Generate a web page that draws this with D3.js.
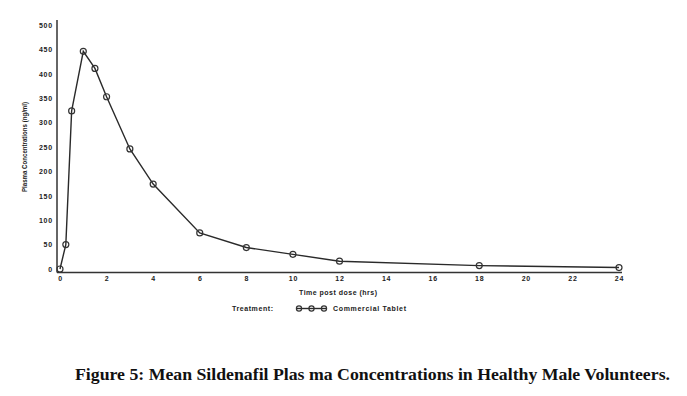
<!DOCTYPE html>
<html>
<head>
<meta charset="utf-8">
<script src="https://cdn.jsdelivr.net/npm/d3@7"></script>
<style>
  body { margin: 0; background: #fff; }
  .tick text, .lbl { font-family: "Liberation Sans", Arial, sans-serif; font-weight: bold; font-size: 7px; fill: #222; }
</style>
</head>
<body>
<div id="chart"></div>
<script>
// Mean sildenafil plasma concentration (ng/ml) by time post dose (hrs)
const times = [0, 0.25, 0.5, 1, 1.5, 2, 3, 4, 6, 8, 10, 12, 18, 24];
const conc = [0, 50, 324, 446, 411, 353, 246, 174, 74, 44, 30, 16, 7, 3];
const xTicks = [0, 2, 4, 6, 8, 10, 12, 14, 16, 18, 20, 22, 24];
const yTicks = [0, 50, 100, 150, 200, 250, 300, 350, 400, 450, 500];

const width = 687, height = 396;

const svg = d3.select("#chart")
    .append("svg")
    .attr("width", width)
    .attr("height", height);

const xScale = d3.scaleLinear().domain([0, 24]).range([60, 619]);
const yScale = d3.scaleLinear().domain([0, 500]).range([269, 25]);

// axes (no tick marks, just labels)
const bottomAxis = d3.axisBottom(xScale).tickValues(xTicks).tickSize(0).tickPadding(0);
const xg = svg.append("g")
    .attr("transform", "translate(0,276)")
    .call(bottomAxis);
xg.select(".domain").remove();
xg.selectAll("text").attr("dy", "0.71em").style("letter-spacing", "0.8px");

const leftAxis = d3.axisLeft(yScale).tickValues(yTicks).tickSize(0).tickPadding(0);
const yg = svg.append("g")
    .attr("transform", "translate(53,0)")
    .call(leftAxis);
yg.select(".domain").remove();
yg.selectAll("text").style("letter-spacing", "0.8px");

// axis lines
svg.append("line")
    .attr("x1", 57).attr("x2", 57).attr("y1", 20).attr("y2", 272.5)
    .attr("stroke", "#333").attr("stroke-width", 1.5);
svg.append("line")
    .attr("x1", 57).attr("x2", 622).attr("y1", 272.5).attr("y2", 272.5)
    .attr("stroke", "#333").attr("stroke-width", 1.5);

// axis titles
svg.append("text")
    .attr("class", "lbl")
    .attr("x", 338).attr("y", 295)
    .attr("text-anchor", "middle")
    .attr("textLength", 78)
    .text("Time post dose (hrs)");

svg.append("text")
    .attr("class", "lbl")
    .attr("transform", "translate(27,147) rotate(-90)")
    .attr("text-anchor", "middle")
    .attr("textLength", 90)
    .attr("lengthAdjust", "spacingAndGlyphs")
    .text("Plasma Concentrations (ng/ml)");

// the curve
const data = times.map((t, i) => ({ t: t, c: conc[i] }));
const line = d3.line().x(d => xScale(d.t)).y(d => yScale(d.c));

svg.append("path")
    .datum(data)
    .attr("d", line)
    .attr("fill", "none")
    .attr("stroke", "#2a2a2a")
    .attr("stroke-width", 1.4);

svg.selectAll("circle.pt")
    .data(data)
    .join("circle")
    .attr("class", "pt")
    .attr("cx", d => xScale(d.t))
    .attr("cy", d => yScale(d.c))
    .attr("r", 3)
    .attr("fill", "none")
    .attr("stroke", "#333")
    .attr("stroke-width", 1.2);

// legend
svg.append("text")
    .attr("class", "lbl")
    .attr("x", 232).attr("y", 311)
    .attr("textLength", 41)
    .text("Treatment:");

svg.append("line")
    .attr("x1", 297).attr("x2", 326).attr("y1", 308.5).attr("y2", 308.5)
    .attr("stroke", "#2a2a2a").attr("stroke-width", 1.4);
[299, 311.5, 324].forEach(cx => {
    svg.append("circle")
        .attr("cx", cx).attr("cy", 308.5).attr("r", 2.6)
        .attr("fill", "none").attr("stroke", "#333").attr("stroke-width", 1.2);
});

svg.append("text")
    .attr("class", "lbl")
    .attr("x", 333).attr("y", 311)
    .attr("textLength", 73)
    .text("Commercial Tablet");

// caption
svg.append("text")
    .attr("x", 75).attr("y", 380)
    .attr("textLength", 595)
    .attr("lengthAdjust", "spacingAndGlyphs")
    .style("font-family", "'Liberation Serif', 'Times New Roman', serif")
    .style("font-weight", "bold")
    .style("font-size", "17px")
    .style("fill", "#111")
    .text("Figure 5: Mean Sildenafil Plas ma Concentrations in Healthy Male Volunteers.");
</script>
</body>
</html>
